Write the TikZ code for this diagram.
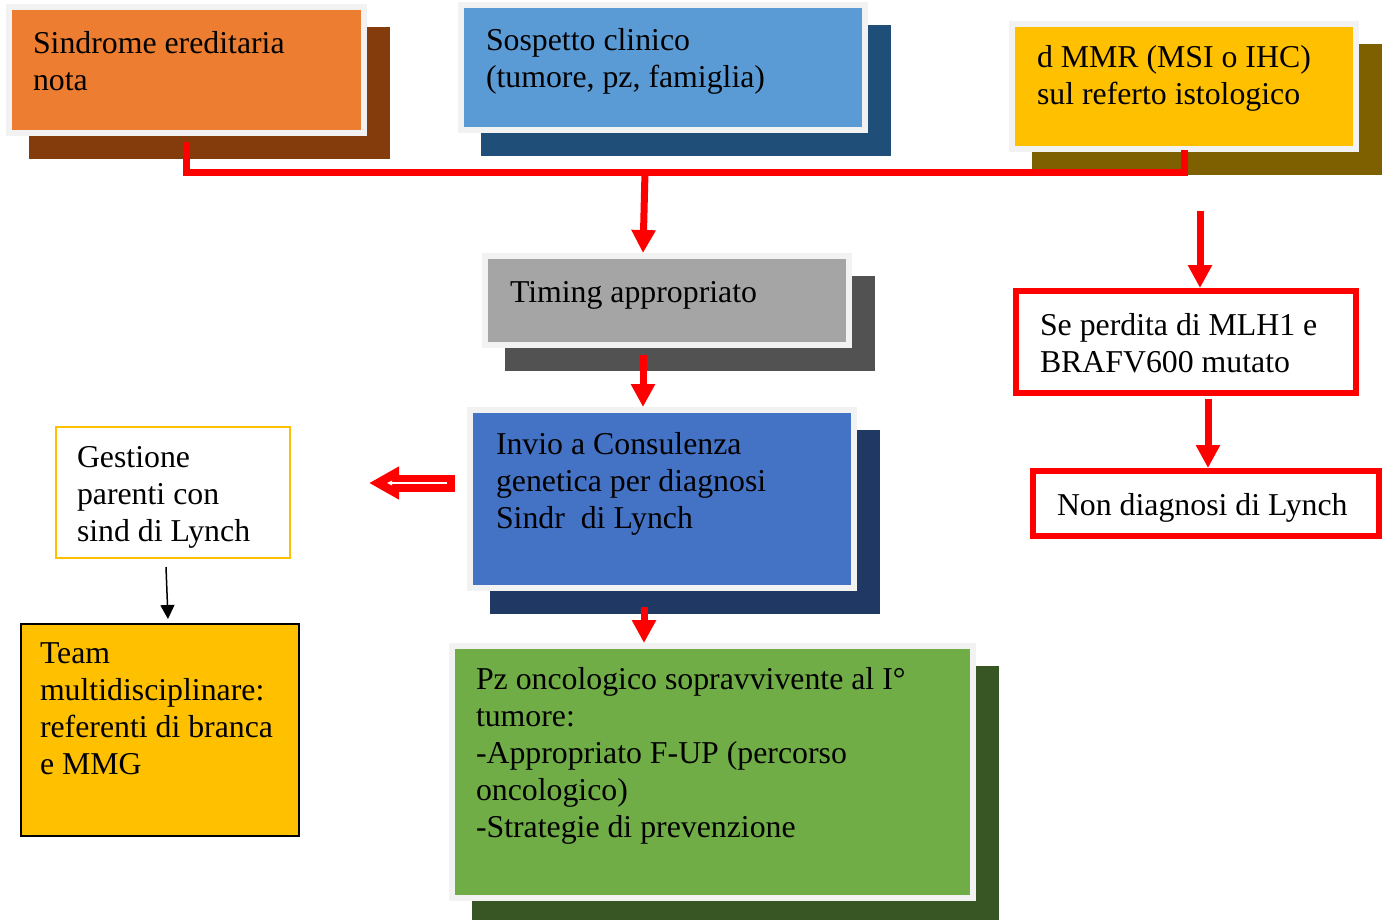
\documentclass[tikz,border=0pt]{standalone}
\usepackage{fontspec}
\setmainfont{Liberation Serif}
\usetikzlibrary{arrows.meta,calc,backgrounds}

\definecolor{frame}{HTML}{F2F2F2}
\definecolor{orangefill}{HTML}{ED7D31}
\definecolor{orangeshade}{HTML}{843C0C}
\definecolor{skyfill}{HTML}{5B9BD5}
\definecolor{skyshade}{HTML}{1F4E79}
\definecolor{goldfill}{HTML}{FFC000}
\definecolor{goldshade}{HTML}{7F6000}
\definecolor{greyfill}{HTML}{A5A5A5}
\definecolor{greyshade}{HTML}{525252}
\definecolor{bluefill}{HTML}{4472C4}
\definecolor{blueshade}{HTML}{203864}
\definecolor{greenfill}{HTML}{70AD47}
\definecolor{greenshade}{HTML}{375623}

\begin{document}
\begin{tikzpicture}[x=1pt,y=-1pt,
  every node/.style={font=\fontsize{31.8}{37}\selectfont, text=black},
  card/.style={rectangle, anchor=north west, draw=frame, line width=6pt, outer sep=0pt, inner ysep=0pt, align=flush left},
  plainbox/.style={rectangle, anchor=north west, line width=2pt, outer sep=0pt, inner ysep=0pt, align=flush left},
  redbox/.style={rectangle, anchor=north west, draw=red, line width=6pt, outer sep=0pt, inner ysep=0pt, align=flush left},
  redline/.style={draw=red, line width=7pt},
  redarrow/.style={draw=red, line width=7pt, -{Triangle[length=23pt,width=23pt]}},
  blockarrow/.style={draw=red, line width=17pt, -{Triangle[length=30pt,width=31pt]}},
  innerline/.style={draw=white, line width=1.3pt, -{Triangle[length=5pt,width=4.5pt]}},
  thinarrow/.style={draw=black, line width=1.5pt, -{Triangle[length=14pt,width=14pt]}}]

  \useasboundingbox (0,0) rectangle (1392,919);

  % top row
  \node[card, fill=orangefill, inner xsep=24pt, text width=307pt, text height=46pt, text depth=80pt] (sind) at (9,7) {Sindrome ereditaria\\nota};
  \node[card, fill=skyfill, inner xsep=25pt, text width=354pt, text height=45pt, text depth=80pt] (sosp) at (461,5) {Sospetto clinico\\(tumore, pz, famiglia)};
  \node[card, fill=goldfill, inner xsep=25pt, text width=294pt, text height=43pt, text depth=82pt] (dmmr) at (1012,24) {d MMR (MSI o IHC)\\sul referto istologico};

  % central column
  \node[card, fill=greyfill, inner xsep=25pt, text width=314pt, text height=46pt, text depth=43pt] (timing) at (485,256) {Timing appropriato};
  \node[card, fill=bluefill, inner xsep=26pt, text width=332pt, text height=44pt, text depth=134pt] (invio) at (470,410) {Invio a Consulenza\\genetica per diagnosi\\Sindr\ \ di Lynch};
  \node[card, fill=greenfill, inner xsep=24pt, text width=473pt, text height=43pt, text depth=209pt] (pz) at (452,646) {Pz oncologico sopravvivente al I°\\tumore:\\-Appropriato F-UP (percorso\\oncologico)\\-Strategie di prevenzione};

  % left column
  \node[plainbox, draw=goldfill, fill=white, inner xsep=21pt, text width=192pt, text height=40pt, text depth=91pt] (gest) at (56,427) {Gestione\\parenti con\\sind di Lynch};
  \node[plainbox, draw=black, fill=goldfill, inner xsep=19pt, text width=240pt, text height=39pt, text depth=173pt] (team) at (21,624) {Team\\multidisciplinare:\\referenti di branca\\e MMG};

  % right column
  \node[redbox, fill=white, inner xsep=24pt, text width=292pt, text height=44pt, text depth=58pt] (seperd) at (1016,291) {Se perdita di MLH1 e\\BRAFV600 mutato};
  \node[redbox, fill=white, inner xsep=24pt, text width=298pt, text height=44pt, text depth=21pt] (nond) at (1033,471) {\mbox{Non diagnosi di Lynch}};

  % shadows
  \begin{scope}[on background layer]
    \fill[orangeshade] ($(sind.north west)+(20,20)$) rectangle ($(sind.south east)+(26,26)$);
    \fill[skyshade] ($(sosp.north west)+(20,20)$) rectangle ($(sosp.south east)+(26,26)$);
    \fill[goldshade] ($(dmmr.north west)+(20,20)$) rectangle ($(dmmr.south east)+(26,26)$);
    \fill[greyshade] ($(timing.north west)+(20,20)$) rectangle ($(timing.south east)+(26,26)$);
    \fill[blueshade] ($(invio.north west)+(20,20)$) rectangle ($(invio.south east)+(26,26)$);
    \fill[greenshade] ($(pz.north west)+(20,20)$) rectangle ($(pz.south east)+(26,26)$);
  \end{scope}

  \coordinate (jn) at (645,172);
  \coordinate (mmrdrop) at (1200,211);

  \draw[redline] ($(sind.south)+(0,9)$) |- (jn) -| ($(dmmr.south)+(0,1)$);
  \draw[redarrow] (jn) -- ($(jn |- timing.north)+(-2,-3)$);
  \draw[redarrow] ($(jn |- timing.south)+(-2,10)$) -- ($(jn |- invio.north)+(-2,-3)$);
  \draw[redarrow] ($(jn |- invio.south)+(-1,19)$) -- ($(jn |- pz.north)+(-1,-3)$);

  \draw[redarrow] (mmrdrop) -- ($(mmrdrop |- seperd.north)+(0,-3)$);
  \draw[redarrow] ($(nond.north |- seperd.south)+(2,6)$) -- ($(nond.north)+(2,-3)$);

  \draw[blockarrow] ($(invio.west)+(-15,-16)$) -- ($(invio.west -| gest.east)+(79,-16)$);
  \draw[innerline] ($(invio.west)+(-23,-16)$) -- ($(invio.west -| gest.east)+(97,-16)$);

  \draw[thinarrow] ($(gest.south)+(-7,9)$) -- ($(team.north)+(8,-5)$);

\end{tikzpicture}
\end{document}
